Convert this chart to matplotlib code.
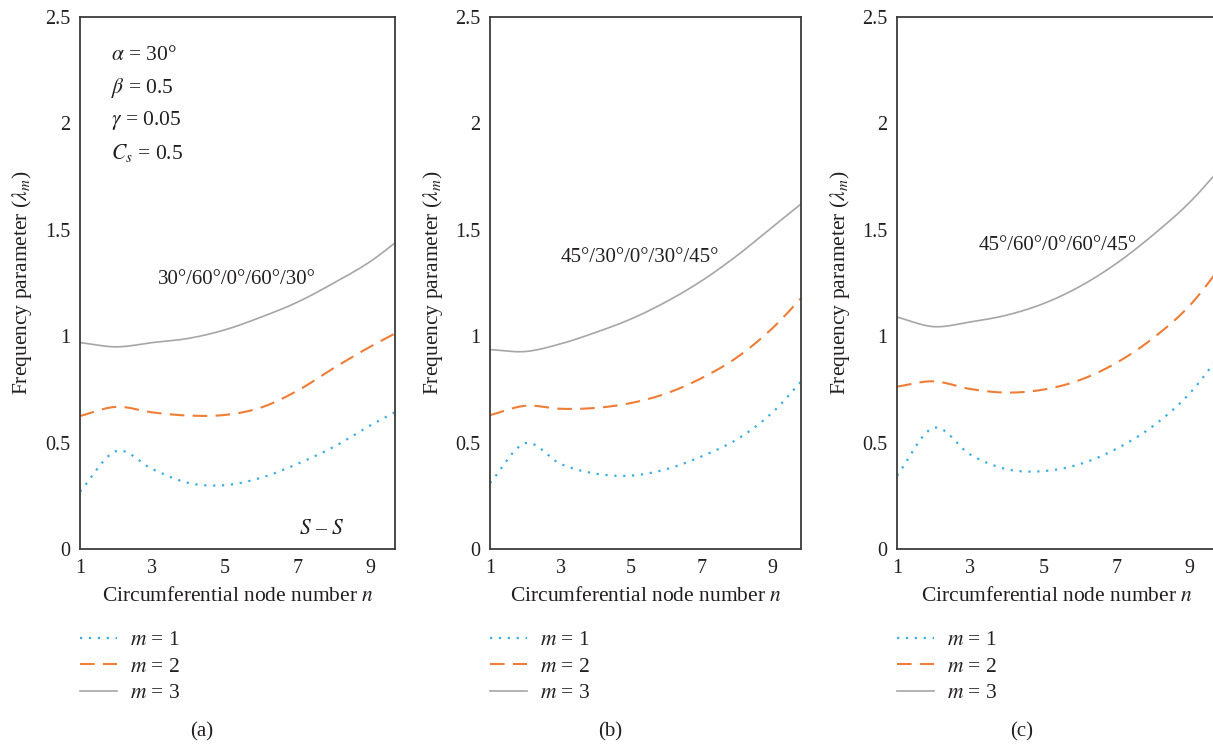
import numpy as np
import matplotlib
matplotlib.use("Agg")
import matplotlib.pyplot as plt

plt.rcParams["font.family"] = ["Liberation Serif", "DejaVu Serif"]
plt.rcParams["mathtext.fontset"] = "stix"

# Circumferential node number
n = [1, 2, 3, 4, 5, 6, 7, 8, 9, 10]

# (a) 30/60/0/60/30 laminate
a_m1 = [0.27, 0.46, 0.375, 0.31, 0.30, 0.335, 0.40, 0.48, 0.58, 0.67]
a_m2 = [0.625, 0.668, 0.642, 0.627, 0.63, 0.665, 0.744, 0.85, 0.95, 1.04]
a_m3 = [0.97, 0.95, 0.97, 0.99, 1.03, 1.09, 1.16, 1.25, 1.35, 1.48]

# (b) 45/30/0/30/45 laminate
b_m1 = [0.31, 0.497, 0.40, 0.354, 0.345, 0.375, 0.435, 0.515, 0.64, 0.82]
b_m2 = [0.629, 0.673, 0.659, 0.663, 0.686, 0.731, 0.803, 0.90, 1.036, 1.21]
b_m3 = [0.937, 0.928, 0.964, 1.018, 1.081, 1.162, 1.26, 1.378, 1.512, 1.645]

# (c) 45/60/0/60/45 laminate
c_m1 = [0.345, 0.569, 0.444, 0.375, 0.366, 0.399, 0.471, 0.578, 0.731, 0.95]
c_m2 = [0.763, 0.788, 0.752, 0.735, 0.749, 0.794, 0.875, 0.991, 1.144, 1.36]
c_m3 = [1.09, 1.045, 1.067, 1.099, 1.153, 1.234, 1.342, 1.476, 1.629, 1.82]

layups = ["30°/60°/0°/60°/30°", "45°/30°/0°/30°/45°", "45°/60°/0°/60°/45°"]
panel_tags = ["(a)", "(b)", "(c)"]
legend_labels = ["$m$ = 1", "$m$ = 2", "$m$ = 3"]
y_ticks = [0, 0.5, 1, 1.5, 2, 2.5]
y_ticklabels = ["0", "0.5", "1", "1.5", "2", "2.5"]
x_ticks = [1, 3, 5, 7, 9]

series = [(a_m1, a_m2, a_m3), (b_m1, b_m2, b_m3), (c_m1, c_m2, c_m3)]

colors = ["#3AADE6", "#F07D35", "#A6A6A6"]
styles = [(0, (1, 3)), (0, (7, 4)), "-"]
widths = [1.6, 1.5, 1.2]
TXT = "#231F20"


def smooth(x, y, steps=30):
    """Catmull-Rom spline through the points (smoothed line rendering)."""
    x = np.asarray(x, float)
    y = np.asarray(y, float)
    px = np.concatenate([[2 * x[0] - x[1]], x, [2 * x[-1] - x[-2]]])
    py = np.concatenate([[2 * y[0] - y[1]], y, [2 * y[-1] - y[-2]]])
    xs, ys = [], []
    t = np.linspace(0, 1, steps, endpoint=False)
    for i in range(1, len(px) - 2):
        for arr, out in ((px, xs), (py, ys)):
            p0, p1, p2, p3 = arr[i - 1], arr[i], arr[i + 1], arr[i + 2]
            out.append(0.5 * (2 * p1 + (-p0 + p2) * t
                              + (2 * p0 - 5 * p1 + 4 * p2 - p3) * t ** 2
                              + (-p0 + 3 * p1 - 3 * p2 + p3) * t ** 3))
    xs.append([x[-1]])
    ys.append([y[-1]])
    return np.concatenate(xs), np.concatenate(ys)


W, H = 1213, 745
fig = plt.figure(figsize=(W / 100, H / 100), dpi=100)

# pixel boxes: left, right, xmax
boxes = [(80, 395, 9.69), (490, 801, 9.82), (897, 1216, 9.72)]
top_px, bot_px = 17, 549
label_x = [22, 433, 840]
tag_x = [202, 610, 1022]
layup_pos = [(237, 280), (640, 258), (1058, 245)]

for k, (l, r, xmax) in enumerate(boxes):
    ax = fig.add_axes([l / W, 1 - bot_px / H, (r - l) / W, (bot_px - top_px) / H])
    handles = []
    for vals, c, ls, lw, lab in zip(series[k], colors, styles, widths, legend_labels):
        sx, sy = smooth(n, vals)
        h, = ax.plot(sx, sy, color=c, linestyle=ls, lw=lw, label=lab)
        handles.append(h)
    ax.set_xlim(1, xmax)
    ax.set_ylim(0, 2.5)
    ax.set_xticks(x_ticks)
    ax.set_xticklabels([str(v) for v in x_ticks])
    ax.set_yticks(y_ticks)
    ax.set_yticklabels(y_ticklabels)
    ax.tick_params(length=0, labelsize=14.5, colors=TXT)
    ax.tick_params(axis="y", pad=7)
    ax.tick_params(axis="x", pad=7)
    for s in ax.spines.values():
        s.set_color("#3C3C3C")
        s.set_linewidth(1.3)
    ax.set_xlabel("Circumferential node number $n$", fontsize=15.5, color=TXT, labelpad=7)
    fig.text(label_x[k] / W, 1 - 283 / H, r"Frequency parameter ($\lambda_m$)",
             rotation=90, ha="center", va="center", fontsize=15.5, color=TXT)
    fig.text(layup_pos[k][0] / W, 1 - layup_pos[k][1] / H, layups[k],
             ha="center", va="center", fontsize=15, color=TXT)
    leg = fig.legend(handles=handles, loc="upper left",
                     bbox_to_anchor=(l / W, 1 - 630 / H),
                     frameon=False, fontsize=15.5, handlelength=1.7,
                     handletextpad=0.6, labelspacing=0.3, borderaxespad=0,
                     borderpad=0)
    for t in leg.get_texts():
        t.set_color(TXT)
    fig.text(tag_x[k] / W, 1 - 732 / H, panel_tags[k], ha="center", va="center",
             fontsize=15, color=TXT)

# material and geometry parameters of panel (a)
params = [r"$\alpha$ = 30°", r"$\beta$ = 0.5", r"$\gamma$ = 0.05", r"$C_s$ = 0.5"]
for i, p in enumerate(params):
    fig.text(111 / W, 1 - (55 + i * 32.5) / H, p, ha="left", va="center",
             fontsize=15.5, color=TXT)
fig.text(322 / W, 1 - 530 / H, "$S$ – $S$", ha="center", va="center",
         fontsize=15.5, color=TXT)

fig.savefig("out.png", dpi=100)
